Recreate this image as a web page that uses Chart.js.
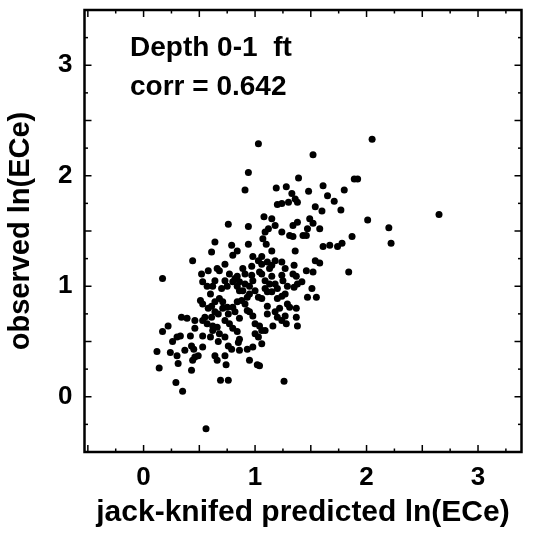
<!DOCTYPE html>
<html><head><meta charset="utf-8">
<script src="https://cdn.jsdelivr.net/npm/chart.js@4/dist/chart.umd.min.js"></script>
<style>html,body{margin:0;padding:0;background:#fff}#wrap{width:536px;height:540px;position:relative}</style>
</head><body><div id="wrap"><canvas id="c"></canvas></div>
<script>
// jack-knifed predicted ln(ECe) (x) and observed ln(ECe) (y)
const predicted = [
  0.44,0.17,0.34,0.39,0.46,0.46,0.22,0.17,0.33,0.42,0.26,0.30,0.12,0.24,0.30,0.37,0.43,0.45,0.46,0.44,0.49,0.14,0.31,0.43,0.29,0.35,
  1.03,0.94,0.91,0.76,0.94,0.64,0.79,0.94,
  2.05,1.52,1.39,1.19,1.28,1.33,1.36,1.38,1.20,1.24,1.30,1.48,1.61,1.65,1.71,1.80,1.89,1.92,1.54,1.60,1.77,1.08,1.15,1.18,1.12,1.09,1.24,1.34,1.38,1.49,1.52,1.47,1.58,1.46,1.31,1.34,1.87,2.01,2.20,2.65,2.22,1.61,1.67,1.74,1.78,1.07,1.43,1.10,
  0.61,0.80,0.84,1.15,1.36,0.98,1.03,1.06,1.11,1.15,
  1.18,1.24,0.89,0.52,0.58,0.66,0.68,0.77,0.84,0.91,
  0.97,0.98,1.04,1.09,1.15,1.18,1.24,1.25,1.34,1.37,
  1.38,1.42,1.46,0.53,0.57,0.62,0.64,0.73,0.75,0.80,
  0.84,0.86,0.89,0.93,0.95,1.00,1.03,1.11,1.15,1.20,
  1.24,1.29,1.31,1.37,1.47,0.51,0.53,0.58,0.61,0.64,
  0.67,0.71,0.75,0.68,0.71,0.80,0.82,0.84,0.88,0.93,
  0.95,0.98,1.00,1.04,1.06,1.00,1.03,1.18,1.20,1.24,
  1.16,1.27,1.28,1.37,1.38,0.53,0.57,0.62,0.66,0.73,
  0.77,0.80,0.84,0.68,0.73,0.60,0.86,0.76,0.79,0.53,
  0.64,0.73,0.86,0.93,0.98,1.35,1.27,1.29,1.35,1.11,
  1.09,1.06,0.53,0.62,0.67,0.85,
  1.52,1.54,1.58,1.84,1.51,1.55,
  0.56,0.66,0.74,0.95,1.02,1.04,0.69,0.76,1.26,
  0.82,0.91,0.86,0.95,1.06,1.13,0.55,0.61,0.64,0.76,
  0.86,0.91,1.06,1.09,1.06,1.13,1.11,1.22,0.70,0.60,
  0.73,0.97,1.27,1.20
];
const observed = [
  1.23,1.07,0.72,0.71,0.69,0.62,0.64,0.59,0.55,0.55,0.50,0.54,0.41,0.40,0.37,0.42,0.46,0.43,0.36,0.33,0.37,0.26,0.30,0.24,0.13,0.05,
  2.29,2.03,1.87,1.56,1.54,1.40,1.37,1.38,
  2.33,2.19,1.98,1.89,1.90,1.84,1.79,1.76,1.74,1.75,1.76,1.86,1.91,1.82,1.77,1.87,1.97,1.97,1.72,1.68,1.69,1.63,1.61,1.55,1.52,1.49,1.49,1.55,1.58,1.61,1.57,1.52,1.52,1.46,1.46,1.45,1.45,1.60,1.53,1.65,1.39,1.36,1.37,1.36,1.39,1.43,1.46,1.38,
  1.31,1.28,1.32,1.32,1.32,1.27,1.23,1.20,1.22,1.19,
  1.23,1.22,1.16,1.11,1.14,1.16,1.14,1.11,1.09,1.11,
  1.10,1.05,1.13,1.05,1.09,1.02,1.10,1.05,1.11,1.09,
  1.02,1.04,1.14,1.04,1.00,1.00,1.05,1.05,1.00,1.04,
  1.00,1.04,0.96,0.90,0.93,0.96,0.90,0.95,0.95,0.98,
  0.91,0.84,0.81,0.80,0.90,0.87,0.84,0.80,0.82,0.77,
  0.75,0.80,0.81,0.89,0.86,0.81,0.77,0.86,0.87,0.78,
  0.77,0.73,0.66,0.64,0.60,0.57,0.54,0.77,0.72,0.69,
  0.64,0.73,0.66,0.72,0.64,0.69,0.66,0.64,0.63,0.69,
  0.66,0.62,0.59,0.57,0.54,0.54,0.52,0.46,0.43,0.45,
  0.37,0.37,0.42,0.43,0.45,1.19,1.16,1.00,0.99,0.82,
  0.60,0.48,0.55,0.60,0.50,0.49,
  1.13,1.23,1.21,1.13,0.98,0.90,
  -0.29,0.33,0.29,0.33,0.29,0.28,0.15,0.15,0.14,
  1.07,1.02,0.96,1.00,1.27,1.16,0.72,0.72,0.86,0.75,
  0.71,0.84,1.11,0.98,0.89,1.02,0.75,0.80,0.98,0.93,
  1.20,1.18,0.93,0.89
];
const xTickValues = [0, 1, 2, 3];
const yTickValues = [0, 1, 2, 3];
const xRange = [-0.53, 3.39];
const yRange = [-0.5, 3.5];
const annotationLines = ["Depth 0-1  ft", "corr = 0.642"];
const xTitle = "jack-knifed predicted ln(ECe)";
const yTitle = "observed ln(ECe)";

const FAMILY = '"Liberation Sans", Arial, Helvetica, sans-serif';
const points = predicted.map((x, i) => ({x: x, y: observed[i]}));

const framePlugin = {
  id: 'frame',
  afterDatasetsDraw(chart) {
    const ctx = chart.ctx, a = chart.chartArea, xs = chart.scales.x, ys = chart.scales.y;
    ctx.save();
    ctx.strokeStyle = '#000';
    ctx.lineWidth = 2.5;
    ctx.strokeRect(a.left, a.top, a.right - a.left, a.bottom - a.top);
    ctx.lineWidth = 1.5;
    const seg = (x1, y1, x2, y2) => { ctx.beginPath(); ctx.moveTo(x1, y1); ctx.lineTo(x2, y2); ctx.stroke(); };
    for (let k = -4; k <= 16; k++) {
      const v = k * 0.25;
      const len = (k % 2 === 0) ? 7 : 3.5;
      if (v > xs.min && v < xs.max) {
        const px = xs.getPixelForValue(v);
        seg(px, a.bottom, px, a.bottom - len);
        seg(px, a.top, px, a.top + len);
      }
      if (v > ys.min && v < ys.max) {
        const py = ys.getPixelForValue(v);
        seg(a.left, py, a.left + len, py);
        seg(a.right, py, a.right - len, py);
      }
    }
    ctx.fillStyle = '#000';
    ctx.font = 'bold 28px ' + FAMILY;
    ctx.textAlign = 'left';
    ctx.textBaseline = 'alphabetic';
    ctx.fillText(annotationLines[0], a.left + 45.5, a.top + 46);
    ctx.fillText(annotationLines[1], a.left + 45.5, a.top + 85);
    ctx.restore();
  }
};

new Chart(document.getElementById('c'), {
  type: 'scatter',
  data: {
    datasets: [{
      data: points,
      pointRadius: 3.5,
      pointHoverRadius: 3.5,
      pointBackgroundColor: '#000',
      pointBorderWidth: 0,
      borderColor: '#000'
    }]
  },
  options: {
    responsive: true,
    maintainAspectRatio: false,
    animation: false,
    events: [],
    layout: {padding: {top: 10, right: 14.5, bottom: 0, left: 0}},
    plugins: {legend: {display: false}, tooltip: {enabled: false}},
    scales: {
      x: {
        type: 'linear', min: xRange[0], max: xRange[1],
        afterBuildTicks: s => { s.ticks = xTickValues.map(v => ({value: v})); },
        afterFit: s => { s.height = 88; s.paddingLeft = 0; s.paddingRight = 0; },
        grid: {display: false, drawTicks: false},
        border: {display: false},
        ticks: {color: '#000', padding: 10, maxRotation: 0, autoSkip: false,
                font: {family: FAMILY, size: 26, weight: 'bold'}},
        title: {display: true, text: xTitle, color: '#000',
                font: {family: FAMILY, size: 30, weight: 'bold'}, padding: {top: 0, bottom: 9}}
      },
      y: {
        type: 'linear', min: yRange[0], max: yRange[1],
        afterBuildTicks: s => { s.ticks = yTickValues.map(v => ({value: v})); },
        afterFit: s => { s.width = 84.5; s.paddingTop = 0; s.paddingBottom = 0; },
        grid: {display: false, drawTicks: false},
        border: {display: false},
        ticks: {color: '#000', padding: 12, autoSkip: false,
                font: {family: FAMILY, size: 26, weight: 'bold'}},
        title: {display: true, text: yTitle, color: '#000',
                font: {family: FAMILY, size: 29, weight: 'bold'}, padding: {top: 4, bottom: 0}}
      }
    }
  },
  plugins: [framePlugin]
});
</script>
</body></html>
